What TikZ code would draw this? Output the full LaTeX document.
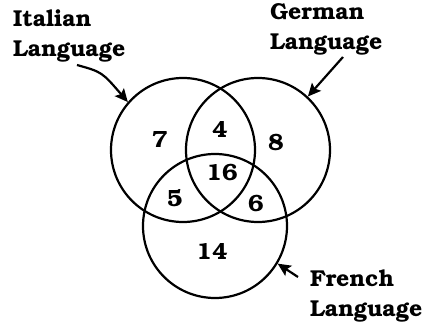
\documentclass[tikz,border=0pt]{standalone}
\usepackage[T1]{fontenc}
\usepackage{bookman}
\usetikzlibrary{arrows.meta}
\tikzset{
  setc/.style={draw, line width=2.2pt, circle, minimum size=144pt, inner sep=0pt},
  num/.style={font=\fontsize{23.5}{26}\selectfont\bfseries, inner sep=0pt},
  lab/.style={font=\fontsize{23}{30}\selectfont\bfseries, align=left, inner sep=0pt},
  pointer/.style={line width=2.2pt, -{Stealth[length=13pt,width=12pt,inset=2.5pt]}}
}
\begin{document}
\begin{tikzpicture}[x=1pt,y=-1pt]
\useasboundingbox (0,0) rectangle (432,331);
\node[setc] (italian) at (183,150) {};
\node[setc] (german) at (258,150) {};
\node[setc] (french) at (215,226) {};
\node[num] (n7) at (160,140) {7};
\node[num] (n4) at (220,130) {4};
\node[num] (n8) at (276,142) {8};
\node[num] (n16) at (222,172) {16};
\node[num] (n5) at (175,198) {5};
\node[num] (n6) at (256,203) {6};
\node[num] (n14) at (212,252) {14};
\node[lab, anchor=north west] (itlab) at (13,10) {Italian\\Language};
\node[lab, anchor=north west] (delab) at (270,3) {German\\Language};
\node[lab, anchor=north west] (frlab) at (310,270) {French\\Language};
\coordinate (itstart) at (77,65);
\coordinate (destart) at (343,57);
\coordinate (frstart) at (298,277);
\draw[pointer] (itstart) .. controls (102,72) .. (italian.139);
\draw[pointer] (destart) -- (german.47);
\draw[pointer] (frstart) -- (french.-31);
\end{tikzpicture}
\end{document}
